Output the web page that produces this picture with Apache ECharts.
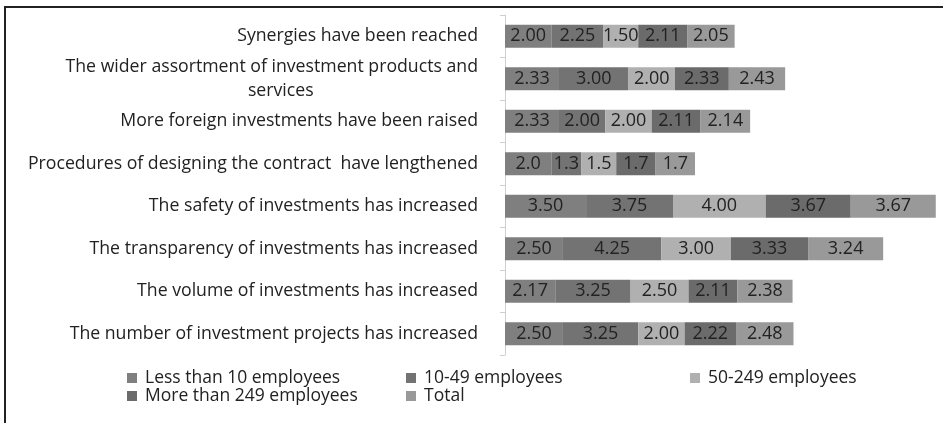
<!DOCTYPE html>
<html>
<head>
<meta charset="utf-8">
<script src="https://cdn.jsdelivr.net/npm/echarts@6/dist/echarts.min.js"></script>
<style>html,body{margin:0;padding:0;background:#fff}#c{width:943px;height:423px}</style>
</head>
<body>
<div id="c"></div>
<script>
const categories = [
  'Synergies have been reached',
  'The wider assortment of investment products and services',
  'More foreign investments have been raised',
  'Procedures of designing the contract  have lengthened',
  'The safety of investments has increased',
  'The transparency of investments has increased',
  'The volume of investments has increased',
  'The number of investment projects has increased'
];
const seriesNames = ['Less than 10 employees', '10-49 employees', '50-249 employees', 'More than 249 employees', 'Total'];
const lessThan10 = [2.00, 2.33, 2.33, 2.0, 3.50, 2.50, 2.17, 2.50];
const emp10to49 = [2.25, 3.00, 2.00, 1.3, 3.75, 4.25, 3.25, 3.25];
const emp50to249 = [1.50, 2.00, 2.00, 1.5, 4.00, 3.00, 2.50, 2.00];
const moreThan249 = [2.11, 2.33, 2.11, 1.7, 3.67, 3.33, 2.11, 2.22];
const total = [2.05, 2.43, 2.14, 1.7, 3.67, 3.24, 2.38, 2.48];
const labelDecimals = [2, 2, 2, 1, 2, 2, 2, 2];

const seriesData = [lessThan10, emp10to49, emp50to249, moreThan249, total];
const colors = ['#7f7f7f', '#737373', '#b0b0b0', '#6b6b6b', '#999999'];
const FONT = 'Open Sans';

const chart = echarts.init(document.getElementById('c'));
const series = seriesNames.map((name, i) => ({
  name: name,
  type: 'bar',
  stack: 'all',
  barWidth: 23,
  data: seriesData[i],
  itemStyle: { color: colors[i] },
  label: {
    show: true,
    position: 'inside',
    color: '#222',
    fontFamily: FONT,
    fontSize: 18,
    formatter: p => p.value.toFixed(labelDecimals[p.dataIndex])
  },
  emphasis: { disabled: true }
}));

const legendPos = [[127, 369], [406, 369], [690, 369], [127, 387], [406, 387]];
const legends = seriesNames.map((n, i) => ({
  data: [n],
  left: legendPos[i][0],
  top: legendPos[i][1],
  padding: 0,
  orient: 'horizontal',
  itemWidth: 10,
  itemHeight: 10,
  icon: 'rect',
  itemGap: 6,
  textStyle: { color: '#222', fontFamily: FONT, fontSize: 17.5, padding: [0, 0, 0, 3] },
  selectedMode: false
}));

chart.setOption({
  animation: false,
  grid: { left: 505, top: 15, width: 431, height: 340, containLabel: false },
  legend: legends,
  xAxis: {
    type: 'value', min: 0, max: 18.6,
    show: false, splitLine: { show: false }
  },
  yAxis: {
    type: 'category',
    inverse: true,
    data: categories,
    axisLine: { show: true, lineStyle: { color: '#cfcfcf', width: 1 } },
    axisTick: { show: true, length: 5, lineStyle: { color: '#cfcfcf' } },
    axisLabel: {
      margin: 27,
      color: '#222',
      fontFamily: FONT,
      fontSize: 17.7,
      formatter: v => {
        if (v.indexOf('services') >= 0) {
          return '{a|The wider assortment of investment products and}\n{b|services}';
        }
        return v;
      },
      rich: {
        a: { color: '#222', fontFamily: FONT, fontSize: 17.7, lineHeight: 24, align: 'right' },
        b: { color: '#222', fontFamily: FONT, fontSize: 17.7, lineHeight: 24, align: 'center', padding: [0, 0, 0, 18] }
      }
    }
  },
  graphic: [{
    type: 'polyline',
    shape: { points: [[5, 423], [5, 7], [943, 7]] },
    style: { stroke: '#222', lineWidth: 2, fill: null },
    silent: true
  }],
  series: series
});
</script>
</body>
</html>
